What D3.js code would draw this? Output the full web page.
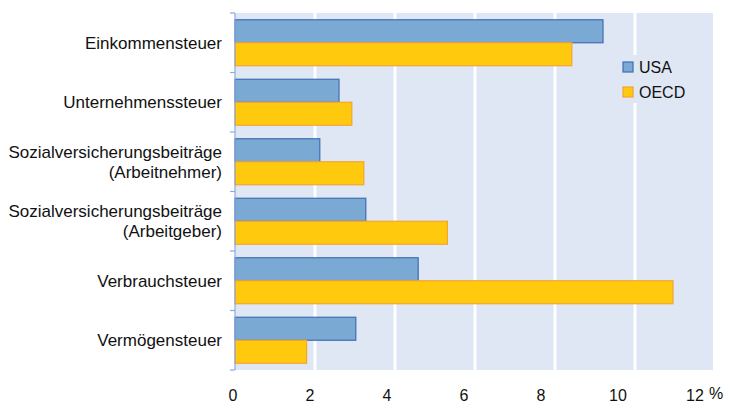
<!DOCTYPE html>
<meta charset='utf-8'>
<head>
    <title>Steuern USA / OECD</title>
    <script src='https://cdn.jsdelivr.net/npm/d3@7/dist/d3.min.js'></script>
</head>

<style>
    body { margin: 0; background: #fff; }
    text { font-family: 'Liberation Sans', Arial, sans-serif; fill: #111; }
    .usa { fill: #7aaad4; stroke: #3f6db3; stroke-width: 1.2px; }
    .oecd { fill: #ffc90e; stroke: #f5a433; stroke-width: 1.2px; }
</style>

<svg></svg>

<script>
    var vWidth = 746;
    var vHeight = 403;

    // categories, top to bottom (line breaks with '|')
    var categories = [
        'Einkommensteuer',
        'Unternehmenssteuer',
        'Sozialversicherungsbeiträge|(Arbeitnehmer)',
        'Sozialversicherungsbeiträge|(Arbeitgeber)',
        'Verbrauchsteuer',
        'Vermögensteuer'
    ];
    var seriesNames = ['USA', 'OECD'];
    var usaValues = [9.2, 2.6, 2.12, 3.27, 4.58, 3.02];
    var oecdValues = [8.42, 2.92, 3.22, 5.31, 10.95, 1.79];
    var tickValues = [0, 2, 4, 6, 8, 10, 12];

    var svg = d3.select('svg').attr('width', vWidth).attr('height', vHeight);

    var mLeft = 235, mRight = 715, mTop = 13, mBottom = 370;

    var x = d3.scaleLinear().domain([0, 12]).range([mLeft, mRight]);
    // tick labels in the original drift slightly left of the gridlines
    var xLabel = d3.scaleLinear().domain([0, 12]).range([mLeft - 2, mRight - 20]);
    var y = d3.scaleBand().domain(categories).range([mTop, mBottom])
        .paddingInner(0.227).paddingOuter(0.1135);
    var ySub = d3.scaleBand().domain(seriesNames).range([0, y.bandwidth()]);

    // plot background
    svg.append('rect')
        .attr('x', mLeft).attr('y', mTop)
        .attr('width', x(12) - mLeft - 2).attr('height', mBottom - mTop)
        .attr('fill', '#dfe6f4');

    // gridlines
    svg.selectAll('line.grid').data(tickValues.filter(function (d) { return d > 0 && d < 12; }))
        .enter().append('line').attr('class', 'grid')
        .attr('x1', function (d) { return x(d); }).attr('x2', function (d) { return x(d); })
        .attr('y1', mTop).attr('y2', mBottom)
        .attr('stroke', '#fff').attr('stroke-width', 3);

    // bars
    var rows = categories.map(function (c, i) {
        return {cat: c, vals: [{s: 'USA', v: usaValues[i]}, {s: 'OECD', v: oecdValues[i]}]};
    });
    var gRow = svg.selectAll('g.row').data(rows).enter().append('g')
        .attr('class', 'row')
        .attr('transform', function (d) { return 'translate(0,' + y(d.cat) + ')'; });
    gRow.selectAll('rect').data(function (d) { return d.vals; }).enter().append('rect')
        .attr('class', function (d) { return d.s === 'USA' ? 'usa' : 'oecd'; })
        .attr('x', x(0))
        .attr('y', function (d) { return ySub(d.s); })
        .attr('width', function (d) { return x(d.v) - x(0); })
        .attr('height', ySub.bandwidth());

    // left axis with ticks at category boundaries
    var bounds = categories.map(function (c) { return y(c) - y.step() * y.paddingInner() / 2; });
    bounds.push(mBottom);
    svg.append('line')
        .attr('x1', mLeft).attr('x2', mLeft).attr('y1', mTop).attr('y2', mBottom)
        .attr('stroke', '#8eaadb').attr('stroke-width', 1.2);
    svg.selectAll('line.ytick').data(bounds).enter().append('line').attr('class', 'ytick')
        .attr('x1', mLeft - 5).attr('x2', mLeft)
        .attr('y1', function (d) { return d; }).attr('y2', function (d) { return d; })
        .attr('stroke', '#8eaadb').attr('stroke-width', 1.2);

    // category labels
    var lab = svg.selectAll('text.cat').data(categories).enter().append('text')
        .attr('class', 'cat')
        .attr('text-anchor', 'end')
        .attr('font-size', '17px');
    lab.each(function (d) {
        var lines = d.split('|');
        var cy = y(d) + y.bandwidth() / 2;
        var t = d3.select(this);
        lines.forEach(function (l, i) {
            t.append('tspan')
                .attr('x', 222)
                .attr('y', cy + (i - (lines.length - 1) / 2) * 20)
                .attr('dy', '0.35em')
                .text(l);
        });
    });

    // x tick labels
    svg.selectAll('text.xtick').data(tickValues).enter().append('text')
        .attr('class', 'xtick')
        .attr('x', function (d) { return xLabel(d); })
        .attr('y', 400.5)
        .attr('text-anchor', 'middle')
        .attr('font-size', '16px')
        .text(function (d) { return d; });
    svg.append('text')
        .attr('x', xLabel(12) + 14).attr('y', 399)
        .attr('font-size', '16px')
        .text('%');

    // legend
    var lg = svg.append('g').attr('transform', 'translate(618,55)');
    lg.append('rect').attr('width', 80).attr('height', 48).attr('fill', '#dfe6f4');
    var li = lg.selectAll('g').data(seriesNames).enter().append('g')
        .attr('transform', function (d, i) { return 'translate(5,' + (7 + i * 25) + ')'; });
    li.append('rect')
        .attr('class', function (d) { return d === 'USA' ? 'usa' : 'oecd'; })
        .attr('width', 10).attr('height', 10);
    li.append('text')
        .attr('x', 16).attr('y', 5).attr('dy', '0.36em')
        .attr('font-size', '16px')
        .text(function (d) { return d; });
</script>
